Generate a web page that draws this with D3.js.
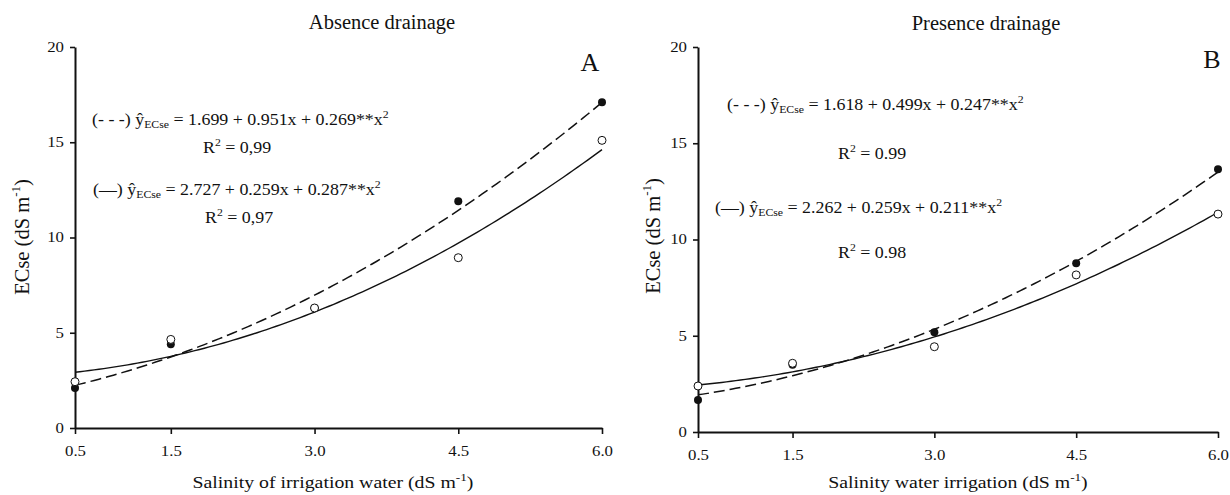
<!DOCTYPE html>
<html>
<head>
<meta charset="utf-8">
<script src="https://cdn.jsdelivr.net/npm/d3@7"></script>
<style>
  html, body { margin: 0; padding: 0; background: #fff; }
  svg { display: block; font-family: "Liberation Serif", "Times New Roman", serif; }
</style>
</head>
<body>
<svg id="chart" width="1230" height="495"></svg>
<script>
// ---------------- DATA ----------------
const salinity = [0.5, 1.5, 3.0, 4.5, 6.0];
const xTickLabels = ["0.5", "1.5", "3.0", "4.5", "6.0"];
const yTicks = [0, 5, 10, 15, 20];

const absenceFilled = [2.1, 4.4, 6.3, 11.9, 17.1];
const absenceOpen = [2.43, 4.65, 6.3, 8.94, 15.1];
const presenceFilled = [1.66, 3.5, 5.18, 8.76, 13.65];
const presenceOpen = [2.39, 3.57, 4.43, 8.16, 11.32];

// regression coefficients printed on the chart (a, b, c of a + b x + c x^2)
const absenceDashedCoef = [1.699, 0.951, 0.269];
const absenceSolidCoef = [2.727, 0.259, 0.287];
const presenceDashedCoef = [1.618, 0.499, 0.247];
const presenceSolidCoef = [2.262, 0.259, 0.211];

const absenceR2 = ["0,99", "0,97"];
const presenceR2 = ["0.99", "0.98"];

const titles = ["Absence drainage", "Presence drainage"];
const panelLetters = ["A", "B"];
const xAxisTitles = ["Salinity of irrigation water (dS m", "Salinity water irrigation (dS m"];
const yAxisTitle = "ECse (dS m";

// ---------------- LAYOUT ----------------
const SX = 1.2;   // horizontal stretch of tick / axis text
const SXE = 1.12; // horizontal stretch of equation text
const panels = [
  {
    x0: 75, x1: 602, y0: 428, y1: 47,
    filled: absenceFilled, open: absenceOpen,
    dashed: absenceDashedCoef, solid: absenceSolidCoef, r2: absenceR2,
    title: titles[0], titleX: 382, titleY: 29,
    letter: panelLetters[0], letterX: 590, letterY: 71,
    xTitle: xAxisTitles[0], xTitleX: 333, xTitleY: 488,
    yTitleX: 29, yTitleY: 237,
    eq: [{x: 92, y: 125}, {x: 203, y: 153}, {x: 93, y: 195}, {x: 205, y: 223}]
  },
  {
    x0: 698, x1: 1218, y0: 432, y1: 47,
    filled: presenceFilled, open: presenceOpen,
    dashed: presenceDashedCoef, solid: presenceSolidCoef, r2: presenceR2,
    title: titles[1], titleX: 986, titleY: 30,
    letter: panelLetters[1], letterX: 1212, letterY: 68,
    xTitle: xAxisTitles[1], xTitleX: 958, xTitleY: 488,
    yTitleX: 660, yTitleY: 236,
    eq: [{x: 727, y: 110}, {x: 838, y: 159}, {x: 715, y: 213}, {x: 838, y: 258}]
  }
];

const svg = d3.select("#chart");
const ink = "#111";

function fmtCoef(v) { return v.toFixed(3); }

function equation(g, pos, prefix, coef) {
  const t = g.append("text")
    .attr("transform", `translate(${pos.x},${pos.y}) scale(${SXE},1)`)
    .attr("font-size", 16).attr("fill", ink);
  t.append("tspan").text(prefix + " ");
  t.append("tspan").text("\u0177");
  t.append("tspan").attr("font-size", 10.5).attr("dy", 3).text("ECse");
  t.append("tspan").attr("dy", -3).text(` = ${fmtCoef(coef[0])} + ${fmtCoef(coef[1])}x + ${fmtCoef(coef[2])}**x`);
  t.append("tspan").attr("font-size", 10.5).attr("dy", -7).text("2");
}

function r2Text(g, pos, val) {
  const t = g.append("text")
    .attr("transform", `translate(${pos.x},${pos.y}) scale(${SXE},1)`)
    .attr("font-size", 16).attr("fill", ink);
  t.append("tspan").text("R");
  t.append("tspan").attr("font-size", 10.5).attr("dy", -7).text("2");
  t.append("tspan").attr("dy", 7).text(" = " + val);
}

panels.forEach(p => {
  const g = svg.append("g");
  const x = d3.scaleLinear().domain([0.5, 6.0]).range([p.x0, p.x1]);
  const y = d3.scaleLinear().domain([0, 20]).range([p.y0, p.y1]);

  // axes
  const xAxis = d3.axisBottom(x).tickValues(salinity)
    .tickFormat((d, i) => xTickLabels[i]).tickSize(6).tickSizeOuter(0).tickPadding(12);
  const gx = g.append("g").attr("transform", `translate(0,${p.y0})`).call(xAxis);
  const yAxis = d3.axisLeft(y).tickValues(yTicks).tickSize(5).tickSizeOuter(0).tickPadding(7);
  const gy = g.append("g").attr("transform", `translate(${p.x0},0)`).call(yAxis);

  [gx, gy].forEach(a => {
    a.select(".domain").attr("stroke", ink).attr("stroke-width", 2);
    a.selectAll(".tick line").attr("stroke", ink).attr("stroke-width", 1.6);
    a.selectAll(".tick text")
      .attr("font-family", "Liberation Serif, Times New Roman, serif")
      .attr("font-size", 14).attr("fill", ink);
  });
  gx.selectAll(".tick text").attr("transform", `scale(${SX},1)`);
  gy.selectAll(".tick text").attr("transform", `scale(${SX},1)`).attr("x", -11 / SX);

  // fitted curves
  const grid = d3.range(0, 111).map(i => 0.5 + i * 0.05);
  const curve = c => d3.line()
    .x(d => x(d))
    .y(d => y(c[0] + c[1] * d + c[2] * d * d))(grid);

  g.append("path").attr("d", curve(p.dashed))
    .attr("fill", "none").attr("stroke", ink).attr("stroke-width", 1.5)
    .attr("stroke-dasharray", "11,5");
  g.append("path").attr("d", curve(p.solid))
    .attr("fill", "none").attr("stroke", ink).attr("stroke-width", 1.4);

  // points
  g.selectAll(".pf").data(p.filled).enter().append("circle")
    .attr("cx", (d, i) => x(salinity[i])).attr("cy", d => y(d))
    .attr("r", 4).attr("fill", ink);
  g.selectAll(".po").data(p.open).enter().append("circle")
    .attr("cx", (d, i) => x(salinity[i])).attr("cy", d => y(d))
    .attr("r", 4).attr("fill", "#fff").attr("stroke", ink).attr("stroke-width", 1);

  // title and letter
  g.append("text").attr("x", p.titleX).attr("y", p.titleY)
    .attr("text-anchor", "middle").attr("font-size", 20.5).attr("fill", ink).text(p.title);
  g.append("text").attr("x", p.letterX).attr("y", p.letterY)
    .attr("text-anchor", "middle").attr("font-size", 26).attr("fill", ink).text(p.letter);

  // equations
  equation(g, p.eq[0], "(- - -)", p.dashed);
  r2Text(g, p.eq[1], p.r2[0]);
  equation(g, p.eq[2], "(\u2014)", p.solid);
  r2Text(g, p.eq[3], p.r2[1]);

  // x axis title
  const xt = g.append("text")
    .attr("transform", `translate(${p.xTitleX},${p.xTitleY}) scale(${SX},1)`)
    .attr("text-anchor", "middle").attr("font-size", 16.5).attr("fill", ink);
  xt.append("tspan").text(p.xTitle);
  xt.append("tspan").attr("font-size", 11).attr("dy", -7).text("-1");
  xt.append("tspan").attr("dy", 7).text(")");

  // y axis title
  const yt = g.append("text")
    .attr("transform", `translate(${p.yTitleX},${p.yTitleY}) rotate(-90)`)
    .attr("text-anchor", "middle").attr("font-size", 20.5).attr("fill", ink);
  yt.append("tspan").text(yAxisTitle);
  yt.append("tspan").attr("font-size", 13).attr("dy", -9).text("-1");
  yt.append("tspan").attr("dy", 9).text(")");
});
</script>
</body>
</html>
